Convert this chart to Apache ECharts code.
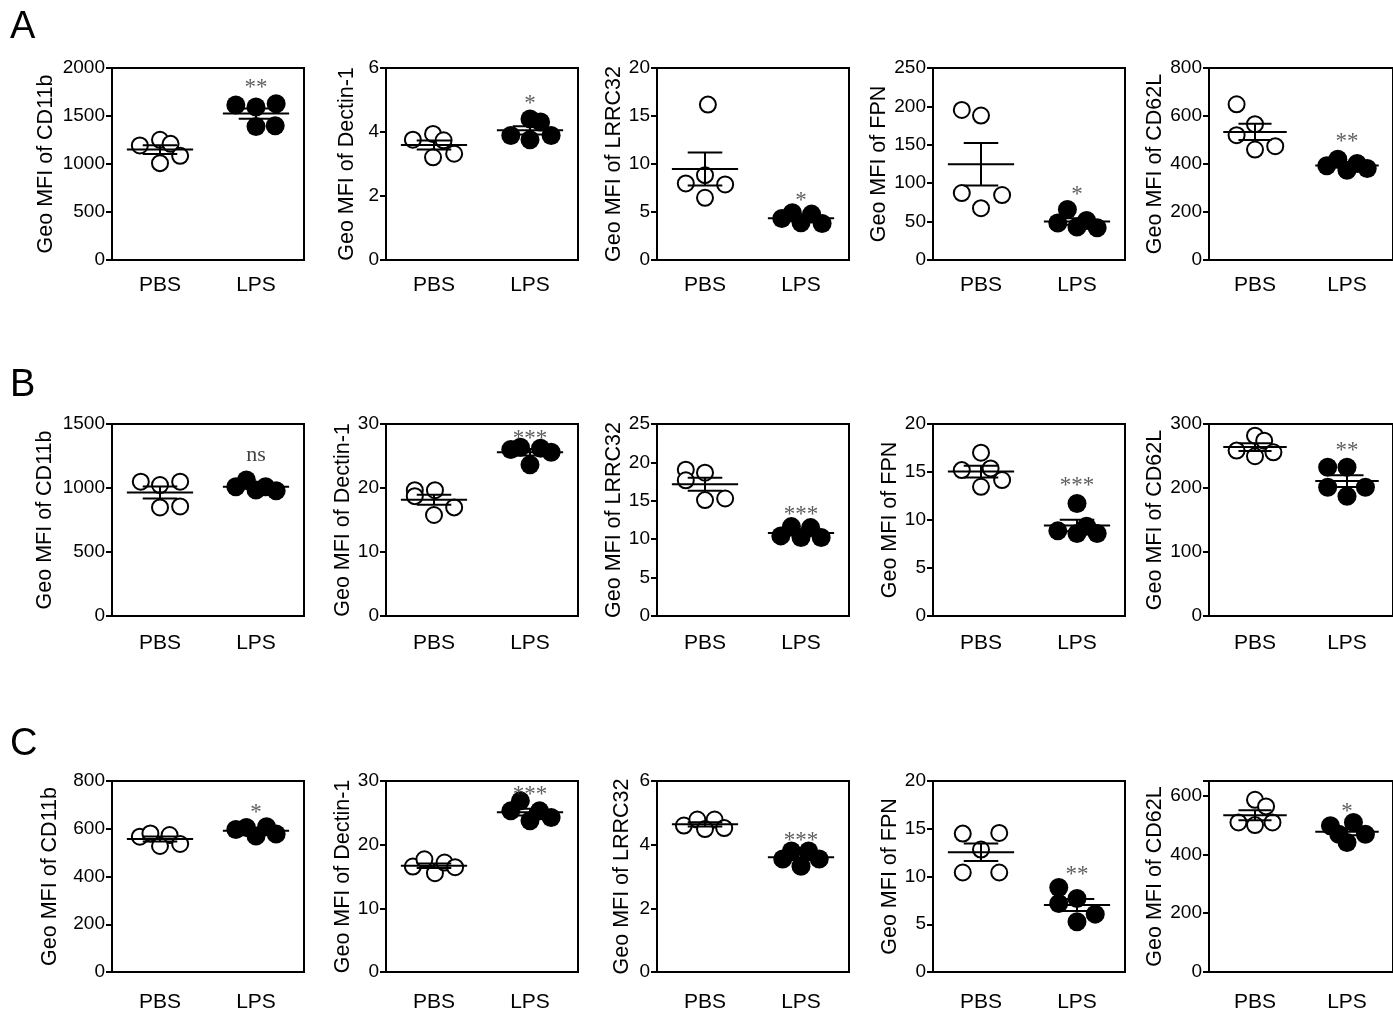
<!DOCTYPE html>
<html><head><meta charset="utf-8">
<script src="https://cdn.jsdelivr.net/npm/echarts@6/dist/echarts.min.js"></script>
<style>html,body{margin:0;padding:0;background:#fff}#c{width:1393px;height:1013px}</style>
</head><body><div id="c"></div><script>
// ---------------- DATA ----------------
const groups = ['PBS', 'LPS'];
const markers = ['CD11b', 'Dectin-1', 'LRRC32', 'FPN', 'CD62L'];
const rowLetters = ['A', 'B', 'C'];

// y-axis ranges (max, tick step) per row
const yMaxA = [2000, 6, 20, 250, 800];
const yStepA = [500, 2, 5, 50, 200];
const yMaxB = [1500, 30, 25, 20, 300];
const yStepB = [500, 10, 5, 5, 100];
const yMaxC = [800, 30, 6, 20, 650];
const yStepC = [200, 10, 2, 5, 200];

// Row A values (5 mice per group)
const A_CD11b_PBS = [1193, 1252, 1210, 1085, 1009];
const A_CD11b_LPS = [1614, 1593, 1628, 1391, 1398];
const A_Dectin_PBS = [3.76, 3.94, 3.74, 3.32, 3.21];
const A_Dectin_LPS = [3.89, 4.41, 4.31, 3.89, 3.76];
const A_LRRC32_PBS = [16.19, 8.84, 7.97, 7.87, 6.48];
const A_LRRC32_LPS = [4.33, 4.92, 3.88, 4.78, 3.81];
const A_FPN_PBS = [195.4, 188.1, 87.2, 84.6, 67.4];
const A_FPN_LPS = [65.7, 48.1, 51.5, 43.0, 42.1];
const A_CD62L_PBS = [648.9, 565.7, 519.9, 460.3, 474.2];
const A_CD62L_LPS = [392.4, 420.1, 374.3, 402.1, 381.3];

// Row B values
const B_CD11b_PBS = [1049, 1023, 1049, 848, 856];
const B_CD11b_LPS = [1010, 1062, 985, 1010, 979];
const B_Dectin_PBS = [19.66, 18.73, 19.66, 16.97, 15.78];
const B_Dectin_LPS = [26.02, 26.38, 26.23, 25.6, 23.64];
const B_LRRC32_PBS = [19.05, 17.67, 18.66, 15.09, 15.30];
const B_LRRC32_LPS = [10.43, 11.64, 10.22, 11.51, 10.22];
const B_FPN_PBS = [17.01, 15.2, 15.37, 14.16, 13.46];
const B_FPN_LPS = [11.72, 8.87, 9.36, 8.59, 8.59];
const B_CD62L_PBS = [281.8, 274, 258.4, 255.8, 249.6];
const B_CD62L_LPS = [232.4, 232.4, 201.2, 201.2, 187.2];

// Row C values
const C_CD11b_PBS = [566.7, 580.6, 573.6, 527.8, 536.1];
const C_CD11b_LPS = [597.2, 605.6, 608.3, 569.4, 577.8];
const C_Dectin_PBS = [16.56, 17.71, 15.52, 17.19, 16.46];
const C_Dectin_LPS = [25.31, 26.88, 25.31, 23.75, 24.27];
const C_LRRC32_PBS = [4.60, 4.79, 4.79, 4.49, 4.52];
const C_LRRC32_LPS = [3.55, 3.80, 3.80, 3.32, 3.55];
const C_FPN_PBS = [14.49, 14.56, 12.82, 10.42, 10.42];
const C_FPN_LPS = [8.85, 7.70, 7.18, 5.26, 6.06];
const C_CD62L_PBS = [586, 563.6, 509, 500, 509];
const C_CD62L_LPS = [497.5, 509, 469, 440.6, 469];

// horizontal scatter spread of each point (fraction of a category slot)
const spreadA_PBS = [[-0.21,0,0.11,0.21,0],[-0.22,-0.01,0.1,0.21,-0.01],[0.03,0,-0.2,0.21,0],[-0.2,0,-0.2,0.22,0],[-0.2,0,-0.2,0,0.22]];
const spreadA_LPS = [[-0.21,0,0.21,0,0.2],[-0.2,0,0.11,0.22,0],[-0.2,-0.09,0,0.11,0.22],[-0.1,-0.2,0.1,0,0.21],[-0.22,-0.1,0,0.11,0.22]];
const spreadB_PBS = [[-0.2,0,0.21,0,0.21],[-0.2,-0.2,0.01,0.21,0],[-0.2,-0.2,0,0,0.21],[0,-0.2,0.1,0.22,0],[0,0.1,-0.2,0.2,0]];
const spreadB_LPS = [[-0.21,-0.1,0,0.1,0.21],[-0.2,-0.1,0.11,0.22,0],[-0.21,-0.1,0,0.1,0.21],[0,-0.2,0.1,0,0.21],[-0.21,0,-0.21,0.2,0]];
const spreadC_PBS = [[-0.21,-0.1,0.1,0,0.21],[-0.22,-0.1,0.01,0.11,0.22],[-0.22,-0.08,0.1,0,0.2],[-0.19,0.19,0,-0.19,0.19],[0,0.12,-0.18,0,0.19]];
const spreadC_LPS = [[-0.21,-0.1,0.11,0,0.21],[-0.2,-0.1,0.1,0,0.22],[-0.19,-0.1,0.08,0,0.19],[-0.19,0,-0.19,0,0.19],[-0.18,0.07,-0.09,0,0.2]];

// significance labels and the value at which they sit
const sigA = ['**', '*', '*', '*', '**'];
const sigYA = [1843, 5.03, 6.69, 91.5, 513];
const sigB = ['ns', '***', '***', '***', '**'];
const sigYB = [1255, 28.45, 13.79, 14.05, 266.2];
const sigC = ['*', '***', '***', '**', '*'];
const sigYC = [689, 28.65, 4.26, 10.73, 560];

// ---------------- BUILD ----------------
const rowsData = [
  {max: yMaxA, step: yStepA, pbs: [A_CD11b_PBS, A_Dectin_PBS, A_LRRC32_PBS, A_FPN_PBS, A_CD62L_PBS], lps: [A_CD11b_LPS, A_Dectin_LPS, A_LRRC32_LPS, A_FPN_LPS, A_CD62L_LPS], sp: spreadA_PBS, sl: spreadA_LPS, sig: sigA, sigY: sigYA},
  {max: yMaxB, step: yStepB, pbs: [B_CD11b_PBS, B_Dectin_PBS, B_LRRC32_PBS, B_FPN_PBS, B_CD62L_PBS], lps: [B_CD11b_LPS, B_Dectin_LPS, B_LRRC32_LPS, B_FPN_LPS, B_CD62L_LPS], sp: spreadB_PBS, sl: spreadB_LPS, sig: sigB, sigY: sigYB},
  {max: yMaxC, step: yStepC, pbs: [C_CD11b_PBS, C_Dectin_PBS, C_LRRC32_PBS, C_FPN_PBS, C_CD62L_PBS], lps: [C_CD11b_LPS, C_Dectin_LPS, C_LRRC32_LPS, C_FPN_LPS, C_CD62L_LPS], sp: spreadC_PBS, sl: spreadC_LPS, sig: sigC, sigY: sigYC}
];

// layout
const colLeft = [112, 386, 657, 933, 1209];
const rowTop = [68, 424, 781];
const W = 192, H = 192;
const xLabelMargin = [15, 17, 20];
const nameGaps = [[55, 28, 31, 40, 43], [56, 31, 31, 28, 43], [51, 26, 24, 25, 40]];
const FONT = '"Liberation Sans", Arial, sans-serif';
const SERIF = '"Liberation Serif", "Times New Roman", serif';

function mean(a) { return a.reduce((s, v) => s + v, 0) / a.length; }
function sem(a) {
  const m = mean(a);
  const sd = Math.sqrt(a.reduce((s, v) => s + (v - m) * (v - m), 0) / (a.length - 1));
  return sd / Math.sqrt(a.length);
}

const grid = [], xAxis = [], yAxis = [], series = [];
const lineStyle = {stroke: '#000', lineWidth: 2};

function renderMean(params, api) {
  const x = api.value(0), m = api.value(1), s = api.value(2);
  const c = api.coord([x, m]);
  const t = api.coord([x, m + s]);
  const b = api.coord([x, m - s]);
  const unit = api.size([1, 0])[0];
  const hw = unit * 0.345, cw = unit * 0.18;
  return {type: 'group', children: [
    {type: 'line', shape: {x1: c[0] - hw, y1: c[1], x2: c[0] + hw, y2: c[1]}, style: lineStyle},
    {type: 'line', shape: {x1: c[0], y1: t[1], x2: c[0], y2: b[1]}, style: lineStyle},
    {type: 'line', shape: {x1: c[0] - cw, y1: t[1], x2: c[0] + cw, y2: t[1]}, style: lineStyle},
    {type: 'line', shape: {x1: c[0] - cw, y1: b[1], x2: c[0] + cw, y2: b[1]}, style: lineStyle}
  ]};
}

rowsData.forEach((R, r) => {
  markers.forEach((mk, c) => {
    const k = r * 5 + c;
    grid.push({left: colLeft[c], top: rowTop[r], width: W, height: H, show: true, borderColor: '#000', borderWidth: 2, containLabel: false});
    xAxis.push({
      type: 'category', gridIndex: k, data: groups, boundaryGap: true,
      axisLine: {lineStyle: {color: '#000', width: 2}},
      axisTick: {alignWithLabel: true, length: 6, lineStyle: {color: '#000', width: 2}},
      axisLabel: {fontSize: 21, fontFamily: FONT, color: '#000', margin: xLabelMargin[r]},
      splitLine: {show: false}
    });
    xAxis.push({type: 'value', gridIndex: k, min: 0, max: 2, show: false});
    const step = R.step[c];
    yAxis.push({
      type: 'value', gridIndex: k, min: 0, max: R.max[c], interval: step,
      name: 'Geo MFI of ' + mk, nameLocation: 'middle', nameGap: nameGaps[r][c],
      nameTextStyle: {fontSize: 21.5, fontFamily: FONT, color: '#000'},
      axisLine: {show: true, lineStyle: {color: '#000', width: 2}},
      axisTick: {show: true, length: 6, lineStyle: {color: '#000', width: 2}},
      axisLabel: {fontSize: 19, fontFamily: FONT, color: '#000', margin: 7,
        formatter: v => (Math.abs(v / step - Math.round(v / step)) < 1e-9 ? String(v) : '')},
      splitLine: {show: false}
    });
    const pbs = R.pbs[c], lps = R.lps[c];
    series.push({
      type: 'scatter', xAxisIndex: 2 * k + 1, yAxisIndex: k, symbol: 'circle', symbolSize: 16,
      itemStyle: {color: '#fff', borderColor: '#000', borderWidth: 2, opacity: 1},
      data: pbs.map((v, i) => [0.5 + R.sp[c][i], v]), z: 3, silent: true
    });
    series.push({
      type: 'scatter', xAxisIndex: 2 * k + 1, yAxisIndex: k, symbol: 'circle', symbolSize: 19,
      itemStyle: {color: '#000', opacity: 1},
      data: lps.map((v, i) => [1.5 + R.sl[c][i], v]), z: 3, silent: true
    });
    series.push({
      type: 'custom', xAxisIndex: 2 * k + 1, yAxisIndex: k, renderItem: renderMean,
      encode: {x: 0, y: 1},
      data: [[0.5, mean(pbs), sem(pbs)], [1.5, mean(lps), sem(lps)]], z: 4, silent: true
    });
    const isNs = R.sig[c] === 'ns';
    series.push({
      type: 'scatter', xAxisIndex: 2 * k + 1, yAxisIndex: k, symbolSize: 0,
      data: [[1.5, R.sigY[c]]], silent: true, z: 5,
      label: {show: true, position: 'inside', formatter: R.sig[c], fontFamily: SERIF,
        offset: isNs ? [0, 0] : [0, 5],
        fontSize: isNs ? 22 : 23, color: isNs ? '#111' : '#333'}
    });
  });
});

const graphic = rowLetters.map((L, r) => ({
  type: 'text', left: 10, top: [9, 367, 726][r],
  style: {text: L, fontSize: 38, fontFamily: FONT, fill: '#000'}
}));

const chart = echarts.init(document.getElementById('c'), null, {renderer: 'canvas'});
chart.setOption({animation: false, backgroundColor: '#fff', grid, xAxis, yAxis, series, graphic});
</script></body></html>
